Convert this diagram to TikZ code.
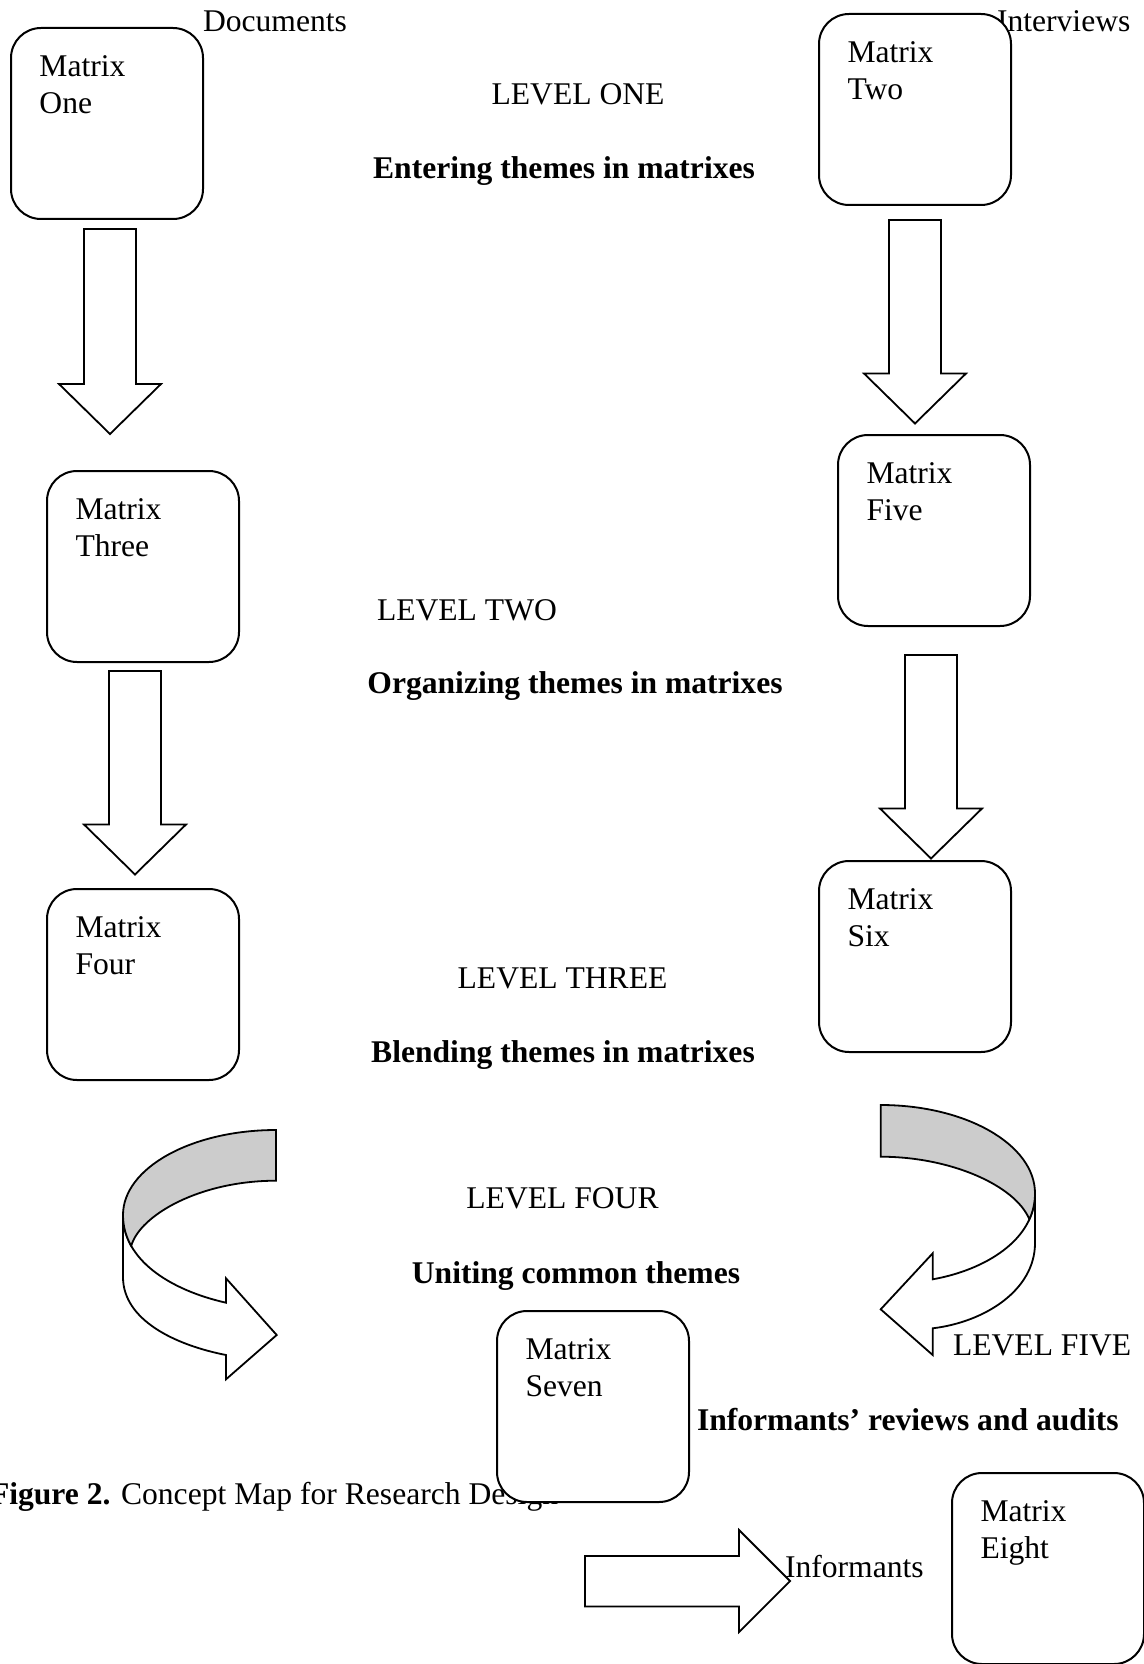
\documentclass[tikz,border=0pt]{standalone}
\usepackage{fontspec}
\setmainfont{Liberation Serif}
\newcommand\mlines[2]{\vtop{\hbox{#1}\hbox{#2}}}
\begin{document}
\begin{tikzpicture}[x=0.5pt,y=-0.5pt,
  every node/.style={inner sep=0pt, outer sep=0pt},
  txt/.style={font=\fontsize{15.8pt}{18.7pt}\selectfont},
  btxt/.style={font=\fontsize{15.8pt}{18.7pt}\selectfont\bfseries},
  mbox/.style={draw, line width=1pt, fill=white, rounded corners=15pt,
    minimum width=96pt, minimum height=95.5pt, anchor=north west},
  mlabel/.style={txt, anchor=base west},
  blk/.style={draw, line width=0.9pt, fill=white, line join=miter},
  band/.style={draw, line width=0.9pt, fill=gray!40},
]
\useasboundingbox (0,0) rectangle (1144,1664);

% ---------- top labels ----------
\node[txt, anchor=base west] (docs) at (203,32) {Documents};
\node[txt, anchor=base west] (intv) at (997,32) {Interviews};

% ---------- caption (partly hidden by Matrix Seven) ----------
\node[txt, anchor=base west] (cap) at (-10,1504) {\textbf{Figure 2.} Concept Map for Research Design};

% ---------- matrix boxes ----------
\node[mbox] (m1) at (11,28) {};
\node[mbox] (m2) at (819,14) {};
\node[mbox] (m3) at (47,471) {};
\node[mbox] (m4) at (47,889) {};
\node[mbox] (m5) at (838,435) {};
\node[mbox] (m6) at (819,861) {};
\node[mbox] (m7) at (497,1311) {};
\node[mbox] (m8) at (952,1473) {};

\node[mlabel] (m1t) at ([shift={(28.5,48.5)}]m1.north west) {\mlines{Matrix}{One}};
\node[mlabel] (m2t) at ([shift={(28.5,48.5)}]m2.north west) {\mlines{Matrix}{Two}};
\node[mlabel] (m3t) at ([shift={(28.5,48.5)}]m3.north west) {\mlines{Matrix}{Three}};
\node[mlabel] (m4t) at ([shift={(28.5,48.5)}]m4.north west) {\mlines{Matrix}{Four}};
\node[mlabel] (m5t) at ([shift={(28.5,48.5)}]m5.north west) {\mlines{Matrix}{Five}};
\node[mlabel] (m6t) at ([shift={(28.5,48.5)}]m6.north west) {\mlines{Matrix}{Six}};
\node[mlabel] (m7t) at ([shift={(28.5,48.5)}]m7.north west) {\mlines{Matrix}{Seven}};
\node[mlabel] (m8t) at ([shift={(28.5,48.5)}]m8.north west) {\mlines{Matrix}{Eight}};

% ---------- straight block arrows ----------
\draw[blk] (84,229) -- (136,229) -- (136,384) -- (161,384) -- (110,434) -- (59,384) -- (84,384) -- cycle;
\draw[blk] (889,220) -- (941,220) -- (941,373.5) -- (966,373.5) -- (915,423.5) -- (864,373.5) -- (889,373.5) -- cycle;
\draw[blk] (109,671) -- (161,671) -- (161,824.5) -- (186,824.5) -- (135,874.5) -- (84,824.5) -- (109,824.5) -- cycle;
\draw[blk] (905,655) -- (957,655) -- (957,808.5) -- (982,808.5) -- (931,858.5) -- (880,808.5) -- (905,808.5) -- cycle;
\draw[blk] (585,1556) -- (739,1556) -- (739,1530) -- (790,1581) -- (739,1632) -- (739,1606.5) -- (585,1606.5) -- cycle;

% ---------- left curved arrow ----------
\draw[blk] (123,1215) .. controls (123,1260) and (170,1290) .. (226,1302.7)
  -- (226,1278.3) -- (276.7,1335) -- (226,1379.3) -- (226,1355)
  .. controls (175,1345) and (123,1320) .. (123,1277) -- cycle;
\draw[band] (276,1130) .. controls (191.5,1130) and (123,1168) .. (123,1215)
  .. controls (123,1226.25) and (125.94,1236.56) .. (131.22,1245.9)
  .. controls (140,1215) and (200,1180.7) .. (276,1180.7) -- cycle;

% ---------- right curved arrow ----------
\draw[blk] (1035,1193.3) .. controls (1035,1240) and (985,1270) .. (932.7,1279.3)
  -- (932.7,1253.3) -- (880.7,1309.3) -- (932.7,1355) -- (932.7,1328.3)
  .. controls (985,1322) and (1035,1290) .. (1035,1243) -- cycle;
\draw[band] (880.7,1105) .. controls (965.9,1105) and (1035,1144.6) .. (1035,1193.3)
  .. controls (1035,1202.64) and (1033,1211.31) .. (1029.38,1219.28)
  .. controls (1015,1185) and (950,1156.7) .. (880.7,1156.7) -- cycle;

% ---------- level texts ----------
\node[txt, anchor=base] (l1) at (578,105) {LEVEL ONE};
\node[btxt, anchor=base] (l1b) at (564,179) {Entering themes in matrixes};
\node[txt, anchor=base west] (l2) at (377,620) {LEVEL TWO};
\node[btxt, anchor=base] (l2b) at (575,693) {Organizing themes in matrixes};
\node[txt, anchor=base] (l3) at (562.5,988) {LEVEL THREE};
\node[btxt, anchor=base] (l3b) at (563,1062) {Blending themes in matrixes};
\node[txt, anchor=base] (l4) at (562.5,1208) {LEVEL FOUR};
\node[btxt, anchor=base] (l4b) at (576,1283) {Uniting common themes};
\node[txt, anchor=base west] (l5) at (953,1355) {LEVEL FIVE};
\node[btxt, anchor=base west] (l5b) at (697,1430) {Informants’ reviews and audits};
\node[txt, anchor=base west] (inf) at (785,1577) {Informants};
\end{tikzpicture}
\end{document}
